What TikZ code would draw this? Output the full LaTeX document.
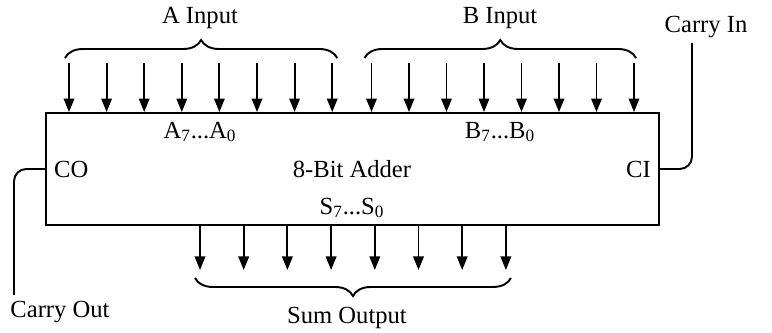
\documentclass[tikz,border=0pt]{standalone}
\usepackage{fontspec}
\setmainfont{Liberation Serif}
\usetikzlibrary{arrows.meta,positioning,calc,decorations.pathreplacing}
\tikzset{
  adderbox/.style={draw, line width=1.1pt, minimum width=12.26cm, minimum height=2.24cm, inner sep=0pt},
  pin/.style={-{Triangle[length=2.7mm, width=2.1mm]}, line width=1.1pt},
  wire/.style={line width=1.1pt, rounded corners=7pt},
  bracket/.style={decorate, decoration={brace, amplitude=3.6mm}, line width=1.1pt},
  lbl/.style={font=\fontsize{14}{16}\selectfont, inner sep=2pt}
}

\begin{document}
\begin{tikzpicture}[x=0.02cm, y=-0.02cm]
  \useasboundingbox (0,0) rectangle (772,333);
  \node[adderbox] (adder) at (352.5,169) {};
  \node[lbl] (title) at (352,169) {8-Bit Adder};
  \node[lbl, anchor=west, inner sep=5pt] (co) at (adder.west) {CO};
  \node[lbl, anchor=east, inner sep=5pt] (ci) at (adder.east) {CI};
  \node[lbl] (alab) at (200,132) {A\textsubscript{7}...A\textsubscript{0}};
  \node[lbl] (blab) at (500,132) {B\textsubscript{7}...B\textsubscript{0}};
  \node[lbl] (slab) at (352,208) {S\textsubscript{7}...S\textsubscript{0}};
  % inputs
  \foreach \i in {0,...,7} {
    \coordinate (a\i) at ({69+37.6*\i},63);
    \coordinate (b\i) at ({371.5+37.5*\i},63);
    \draw[pin] (a\i) -- (a\i |- adder.north);
    \draw[pin] (b\i) -- (b\i |- adder.north);
  }
  % outputs
  \foreach \i in {0,...,7} {
    \coordinate (s\i) at ({200+43.7*\i},270);
    \draw[pin] (s\i |- adder.south) -- (s\i);
  }
  \draw[bracket] ($(a0)+(-4,-5)$) -- ($(a7)+(5,-5)$);
  \draw[bracket] ($(b0)+(-7,-5)$) -- ($(b7)+(2,-5)$);
  \draw[bracket] ($(s7)+(5,8)$) -- ($(s0)+(-5,8)$);
  \node[lbl] (ain) at (200,18) {A Input};
  \node[lbl] (bin) at (500,18) {B Input};
  \node[lbl] (sout) at (347,318) {Sum Output};
  % carry lines
  \node[lbl] (cin) at (706,27) {Carry In};
  \node[lbl] (cout) at (60,312) {Carry Out};
  \coordinate (cinend) at (692,43);
  \coordinate (coutend) at (14,295);
  \draw[wire] (adder.east) -| (cinend);
  \draw[wire] (adder.west) -| (coutend);
\end{tikzpicture}
\end{document}
